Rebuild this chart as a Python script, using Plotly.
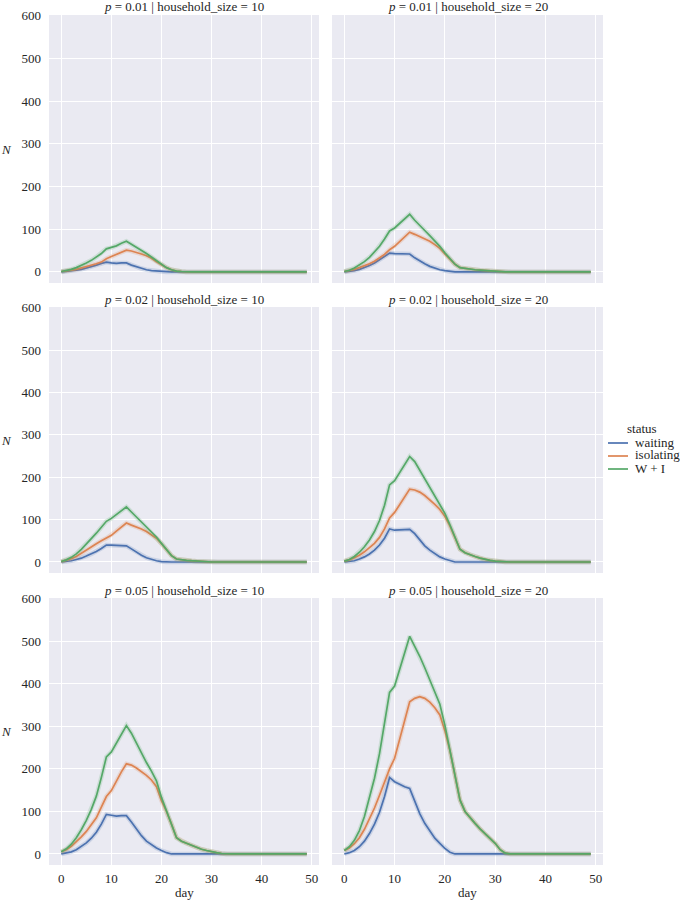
import plotly.graph_objects as go

# ---------------- data ----------------
days = list(range(50))
statuses = ["waiting", "isolating", "W + I"]
p_values = ["0.01", "0.02", "0.05"]
household_sizes = [10, 20]
x_ticks = [0, 10, 20, 30, 40, 50]
y_ticks = [0, 100, 200, 300, 400, 500, 600]

# p = 0.01, household_size = 10
waiting_p01_h10 = [0, 1, 2, 4, 6, 9, 12, 16, 20, 23, 21, 20, 21, 21, 16, 12, 8, 5, 3, 2,
                   1, 0, 0, 0, 0, 0, 0, 0, 0, 0, 0, 0, 0, 0, 0, 0, 0, 0, 0, 0,
                   0, 0, 0, 0, 0, 0, 0, 0, 0, 0]
isolating_p01_h10 = [1, 2, 4, 6, 9, 12, 15, 19, 23, 31, 36, 41, 46, 51, 49, 46, 42, 38, 32, 24,
                     16, 10, 5, 2, 1, 0, 0, 0, 0, 0, 0, 0, 0, 0, 0, 0, 0, 0, 0, 0,
                     0, 0, 0, 0, 0, 0, 0, 0, 0, 0]
wi_p01_h10 = [1, 3, 6, 10, 15, 21, 27, 35, 43, 54, 57, 61, 67, 72, 65, 58, 50, 43, 35, 26,
              17, 10, 5, 2, 1, 0, 0, 0, 0, 0, 0, 0, 0, 0, 0, 0, 0, 0, 0, 0,
              0, 0, 0, 0, 0, 0, 0, 0, 0, 0]

# p = 0.01, household_size = 20
waiting_p01_h20 = [0, 1, 3, 6, 10, 15, 21, 28, 36, 44, 43, 43, 42, 42, 33, 25, 19, 13, 9, 5,
                   3, 1, 0, 0, 0, 0, 0, 0, 0, 0, 0, 0, 0, 0, 0, 0, 0, 0, 0, 0,
                   0, 0, 0, 0, 0, 0, 0, 0, 0, 0]
isolating_p01_h20 = [1, 3, 6, 10, 14, 19, 25, 32, 41, 52, 60, 71, 82, 93, 88, 83, 78, 72, 64, 55,
                     42, 30, 18, 10, 8, 6, 5, 4, 3, 2, 1, 1, 0, 0, 0, 0, 0, 0, 0, 0,
                     0, 0, 0, 0, 0, 0, 0, 0, 0, 0]
wi_p01_h20 = [1, 4, 9, 16, 24, 34, 46, 60, 77, 96, 103, 114, 124, 135, 121, 108, 97, 85, 73, 60,
              45, 31, 18, 10, 8, 6, 5, 4, 3, 2, 1, 1, 0, 0, 0, 0, 0, 0, 0, 0,
              0, 0, 0, 0, 0, 0, 0, 0, 0, 0]

# p = 0.02, household_size = 10
waiting_p02_h10 = [0, 1, 3, 6, 9, 14, 19, 25, 32, 40, 40, 39, 39, 38, 31, 23, 16, 10, 6, 3,
                   1, 0, 0, 0, 0, 0, 0, 0, 0, 0, 0, 0, 0, 0, 0, 0, 0, 0, 0, 0,
                   0, 0, 0, 0, 0, 0, 0, 0, 0, 0]
isolating_p02_h10 = [1, 4, 8, 13, 21, 28, 36, 43, 50, 56, 63, 73, 83, 92, 87, 83, 78, 72, 64, 56,
                     43, 30, 15, 7, 5, 4, 3, 2, 1, 1, 0, 0, 0, 0, 0, 0, 0, 0, 0, 0,
                     0, 0, 0, 0, 0, 0, 0, 0, 0, 0]
wi_p02_h10 = [1, 5, 11, 19, 30, 42, 55, 68, 82, 96, 103, 112, 122, 130, 118, 106, 94, 82, 70, 59,
              44, 30, 15, 7, 5, 4, 3, 2, 1, 1, 0, 0, 0, 0, 0, 0, 0, 0, 0, 0,
              0, 0, 0, 0, 0, 0, 0, 0, 0, 0]

# p = 0.02, household_size = 20
waiting_p02_h20 = [0, 1, 3, 7, 12, 19, 28, 40, 56, 78, 75, 76, 77, 77, 67, 52, 38, 28, 19, 12,
                   7, 3, 0, 0, 0, 0, 0, 0, 0, 0, 0, 0, 0, 0, 0, 0, 0, 0, 0, 0,
                   0, 0, 0, 0, 0, 0, 0, 0, 0, 0]
isolating_p02_h20 = [2, 5, 10, 16, 24, 33, 44, 58, 78, 104, 117, 135, 155, 172, 170, 165, 157, 147, 136, 124,
                     108, 85, 58, 30, 22, 17, 13, 9, 6, 4, 2, 1, 0, 0, 0, 0, 0, 0, 0, 0,
                     0, 0, 0, 0, 0, 0, 0, 0, 0, 0]
wi_p02_h20 = [2, 6, 13, 23, 36, 52, 72, 98, 134, 182, 192, 211, 232, 249, 237, 217, 195, 175, 155, 136,
              115, 88, 58, 30, 22, 17, 13, 9, 6, 4, 2, 1, 0, 0, 0, 0, 0, 0, 0, 0,
              0, 0, 0, 0, 0, 0, 0, 0, 0, 0]

# p = 0.05, household_size = 10
waiting_p05_h10 = [0, 2, 5, 10, 17, 26, 37, 51, 70, 93, 91, 89, 90, 90, 75, 58, 43, 30, 21, 14,
                   8, 3, 0, 0, 0, 0, 0, 0, 0, 0, 0, 0, 0, 0, 0, 0, 0, 0, 0, 0,
                   0, 0, 0, 0, 0, 0, 0, 0, 0, 0]
isolating_p05_h10 = [5, 10, 18, 28, 40, 53, 68, 85, 110, 135, 149, 172, 193, 212, 209, 202, 194, 185, 174, 158,
                     125, 100, 70, 38, 30, 25, 20, 15, 11, 8, 5, 3, 1, 0, 0, 0, 0, 0, 0, 0,
                     0, 0, 0, 0, 0, 0, 0, 0, 0, 0]
wi_p05_h10 = [5, 12, 23, 38, 57, 79, 105, 136, 180, 228, 240, 261, 283, 302, 284, 260, 237, 215, 195, 172,
              133, 103, 70, 38, 30, 25, 20, 15, 11, 8, 5, 3, 1, 0, 0, 0, 0, 0, 0, 0,
              0, 0, 0, 0, 0, 0, 0, 0, 0, 0]

# p = 0.05, household_size = 20
waiting_p05_h20 = [0, 3, 8, 17, 30, 48, 70, 98, 135, 180, 170, 163, 158, 154, 122, 95, 72, 53, 37, 25,
                   13, 4, 0, 0, 0, 0, 0, 0, 0, 0, 0, 0, 0, 0, 0, 0, 0, 0, 0, 0,
                   0, 0, 0, 0, 0, 0, 0, 0, 0, 0]
isolating_p05_h20 = [8, 14, 24, 38, 58, 82, 108, 138, 170, 200, 225, 270, 318, 358, 366, 370, 366, 357, 344, 327,
                     290, 243, 185, 127, 100, 85, 72, 59, 47, 36, 25, 10, 2, 0, 0, 0, 0, 0, 0, 0,
                     0, 0, 0, 0, 0, 0, 0, 0, 0, 0]
wi_p05_h20 = [8, 17, 32, 55, 88, 130, 178, 236, 305, 380, 395, 433, 476, 512, 488, 465, 438, 410, 381, 352,
              303, 247, 185, 127, 100, 85, 72, 59, 47, 36, 25, 10, 2, 0, 0, 0, 0, 0, 0, 0,
              0, 0, 0, 0, 0, 0, 0, 0, 0, 0]

panels = [
    ("0.01", 10, waiting_p01_h10, isolating_p01_h10, wi_p01_h10),
    ("0.01", 20, waiting_p01_h20, isolating_p01_h20, wi_p01_h20),
    ("0.02", 10, waiting_p02_h10, isolating_p02_h10, wi_p02_h10),
    ("0.02", 20, waiting_p02_h20, isolating_p02_h20, wi_p02_h20),
    ("0.05", 10, waiting_p05_h10, isolating_p05_h10, wi_p05_h10),
    ("0.05", 20, waiting_p05_h20, isolating_p05_h20, wi_p05_h20),
]

# ---------------- style ----------------
W, H = 680, 901
FONT = "Liberation Serif"
TXT = "#262626"
colors = ["#4C72B0", "#DD8452", "#55A868"]
bands = ["rgba(76,114,176,0.20)", "rgba(221,132,82,0.20)", "rgba(85,168,104,0.20)"]

col_px = [(49, 319), (332, 603)]
row_px = [(15, 283), (307, 573), (598, 865)]

def xd(a, b):
    return [a / W, b / W]

def yd(top, bot):
    return [1 - bot / H, 1 - top / H]

fig = go.Figure()
layout = dict(
    width=W, height=H,
    margin=dict(l=0, r=0, t=0, b=0),
    paper_bgcolor="white",
    plot_bgcolor="#EAEAF2",
    showlegend=False,
    font=dict(family=FONT, size=13, color=TXT),
)

annotations = []
shapes = []

for k, (p, hs, w_vals, i_vals, wi_vals) in enumerate(panels):
    r, c = divmod(k, 2)
    n = k + 1
    xa = "x" if n == 1 else f"x{n}"
    ya = "y" if n == 1 else f"y{n}"
    for s, vals in enumerate([w_vals, i_vals, wi_vals]):
        fig.add_trace(go.Scatter(x=days, y=vals, mode="lines", xaxis=xa, yaxis=ya,
                                 line=dict(color=bands[s], width=4.5), hoverinfo="skip",
                                 showlegend=False))
        fig.add_trace(go.Scatter(x=days, y=vals, mode="lines", xaxis=xa, yaxis=ya,
                                 name=statuses[s],
                                 line=dict(color=colors[s], width=1.7),
                                 showlegend=False))
    xkey = "xaxis" if n == 1 else f"xaxis{n}"
    ykey = "yaxis" if n == 1 else f"yaxis{n}"
    layout[xkey] = dict(
        domain=xd(*col_px[c]), anchor=ya, range=[-2.45, 51.45],
        tickvals=x_ticks, showticklabels=(r == 2), showgrid=True,
        gridcolor="white", gridwidth=1.2, zeroline=False, showline=False,
        ticks="", ticklabelstandoff=4, automargin=False,
        tickfont=dict(family=FONT, size=13, color=TXT),
    )
    layout[ykey] = dict(
        domain=yd(*row_px[r]), anchor=xa, range=[-26, 602],
        tickvals=y_ticks, showticklabels=(c == 0), showgrid=True,
        gridcolor="white", gridwidth=1.2, zeroline=False, showline=False,
        ticks="", ticklabelstandoff=7, automargin=False,
        tickfont=dict(family=FONT, size=13, color=TXT),
    )
    # panel title
    annotations.append(dict(
        text=f"<i>p</i> = {p} | household_size = {hs}",
        x=(col_px[c][0] + col_px[c][1]) / 2 / W, xref="paper", xanchor="center",
        y=1 - (row_px[r][0] - 8) / H, yref="paper", yanchor="middle",
        showarrow=False, font=dict(family=FONT, size=13, color=TXT)))
    if c == 0:
        annotations.append(dict(
            text="<i>N</i>", x=6 / W, xref="paper", xanchor="center",
            y=1 - ((row_px[r][0] + row_px[r][1]) / 2) / H, yref="paper", yanchor="middle",
            showarrow=False, font=dict(family=FONT, size=13, color=TXT)))
    if r == 2:
        annotations.append(dict(
            text="day", x=(col_px[c][0] + col_px[c][1]) / 2 / W, xref="paper", xanchor="center",
            y=1 - 892 / H, yref="paper", yanchor="middle",
            showarrow=False, font=dict(family=FONT, size=13, color=TXT)))

# legend (drawn manually to match the seaborn layout)
annotations.append(dict(text="status", x=642 / W, xref="paper", xanchor="center",
                        y=1 - 429 / H, yref="paper", yanchor="middle", showarrow=False,
                        font=dict(family=FONT, size=13, color=TXT)))
for s, (lab, yy) in enumerate(zip(statuses, [442, 455, 468])):
    annotations.append(dict(text=lab, x=633 / W, xref="paper", xanchor="left",
                            y=1 - yy / H, yref="paper", yanchor="middle", showarrow=False,
                            font=dict(family=FONT, size=13, color=TXT)))
    shapes.append(dict(type="line", xref="paper", yref="paper",
                       x0=608 / W, x1=628 / W, y0=1 - (yy + 1) / H, y1=1 - (yy + 1) / H,
                       line=dict(color=colors[s], width=1.7)))

layout["annotations"] = annotations
layout["shapes"] = shapes
fig.update_layout(**layout)
fig.write_html("out.html", config={"displayModeBar": False},
               post_script="document.body.style.margin='0';document.body.style.padding='0';")
